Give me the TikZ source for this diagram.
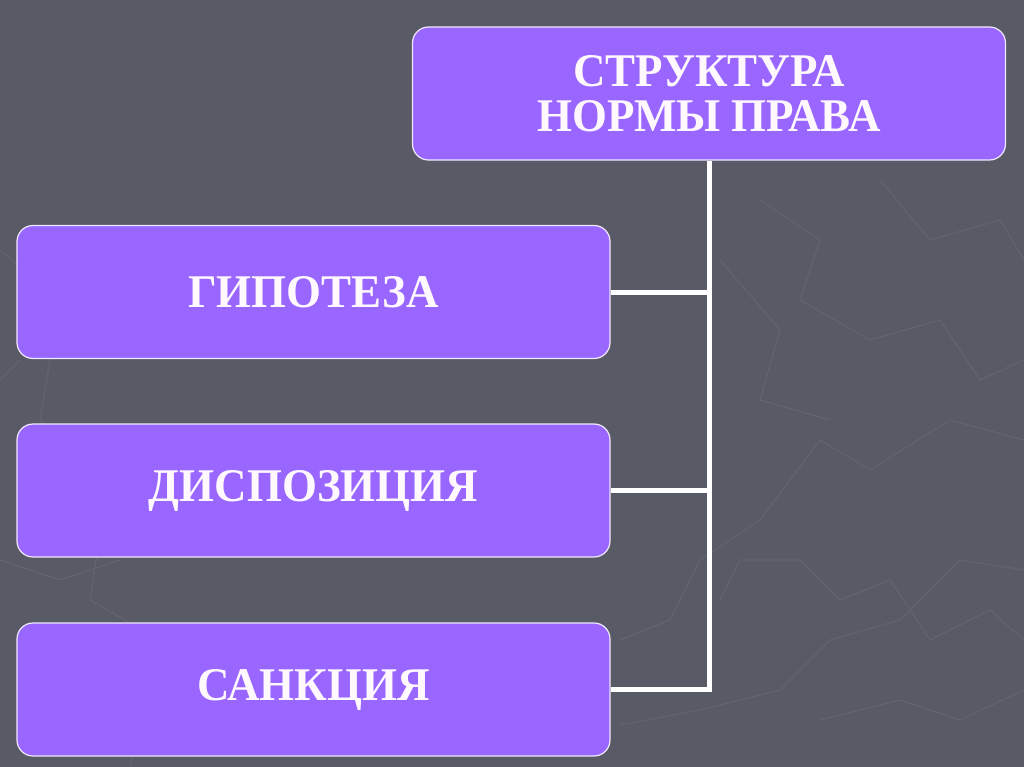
\documentclass[tikz,border=0pt]{standalone}
\usepackage{fontspec}
\setmainfont{Liberation Serif}[FakeStretch=0.96]
\definecolor{bg}{HTML}{585A66}
\definecolor{bgline}{HTML}{61636F}
\definecolor{boxfill}{HTML}{9966FF}
\definecolor{txt}{HTML}{FFF8FF}
\tikzset{
  box/.style={draw=white!85!boxfill, line width=1.2bp, fill=boxfill, rounded corners=16bp,
    minimum width=593bp, minimum height=133bp, inner sep=0pt, text=txt,
    font=\bfseries\fontsize{47}{45}\selectfont, align=center},
  conn/.style={draw=white, line width=5bp},
  faint/.style={draw=bgline, line width=1.2bp}
}
\begin{document}
\begin{tikzpicture}[x=1bp,y=-1bp]
\fill[bg] (0,0) rectangle (1024,767);
\useasboundingbox (0,0) rectangle (1024,767);
% faint background pattern
\draw[faint] (0,250) -- (60,300) -- (40,420) -- (110,470) -- (90,600) -- (160,640) -- (130,767);
\draw[faint] (620,640) -- (670,620) -- (700,560) -- (760,520) -- (820,440) -- (870,470) -- (950,420) -- (1024,440);
\draw[faint] (620,725) -- (700,710) -- (780,690) -- (830,640) -- (900,620) -- (960,560) -- (1024,570);
\draw[faint] (720,600) -- (740,560) -- (800,560) -- (840,600) -- (890,580) -- (930,640) -- (990,610) -- (1024,640);
\draw[faint] (760,200) -- (820,240) -- (800,300) -- (870,340) -- (940,320) -- (980,380) -- (1024,360);
\draw[faint] (720,260) -- (780,330) -- (760,400) -- (830,420);
\draw[faint] (880,180) -- (930,240) -- (1000,220) -- (1024,260);
\draw[faint] (820,720) -- (900,700) -- (960,720) -- (1024,690);
\draw[faint] (0,380) -- (20,360);
\draw[faint] (0,560) -- (60,580) -- (120,560);
% nodes
\node[box] (s) at (709,93.5) {СТРУКТУРА\\НОРМЫ ПРАВА};
\node[box] (g) at (313.5,292) {ГИПОТЕЗА};
\node[box] (d) at (313.5,490.5) {ДИСПОЗИЦИЯ};
\node[box] (k) at (313.5,689.5) {САНКЦИЯ};
\coordinate (j) at (709,689.5);
\draw[conn] (s.south) -- (j);
\draw[conn] (g.east) -- (g.east -| s.south);
\draw[conn] (d.east) -- (d.east -| s.south);
\draw[conn] (k.east) -- ([xshift=2.5bp]j);
\end{tikzpicture}
\end{document}
